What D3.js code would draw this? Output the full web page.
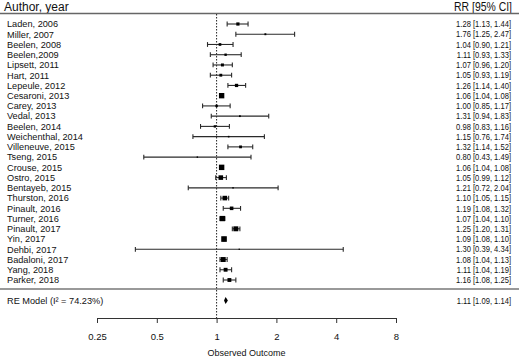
<!DOCTYPE html>
<html>
<head>
<meta charset="utf-8">
<script src="https://cdn.jsdelivr.net/npm/d3@7"></script>
<style>
  html, body { margin: 0; padding: 0; background: #fff; }
  text { font-family: "Liberation Sans", Arial, sans-serif; fill: #111; }
</style>
</head>
<body>
<div id="vis"></div>
<script>
// study labels, top to bottom
const studies = [
  "Laden, 2006", "Miller, 2007", "Beelen, 2008", "Beelen,2009", "Lipsett, 2011",
  "Hart, 2011", "Lepeule, 2012", "Cesaroni, 2013", "Carey, 2013", "Vedal, 2013",
  "Beelen, 2014", "Weichenthal, 2014", "Villeneuve, 2015", "Tseng, 2015",
  "Crouse, 2015", "Ostro, 2015", "Bentayeb, 2015", "Thurston, 2016",
  "Pinault, 2016", "Turner, 2016", "Pinault, 2017", "Yin, 2017", "Dehbi, 2017",
  "Badaloni, 2017", "Yang, 2018", "Parker, 2018"
];
const rr    = [1.28, 1.76, 1.04, 1.11, 1.07, 1.05, 1.26, 1.06, 1.00, 1.31, 0.98, 1.15, 1.32, 0.80, 1.06, 1.05, 1.21, 1.10, 1.19, 1.07, 1.25, 1.09, 1.30, 1.08, 1.11, 1.16];
const lower = [1.13, 1.25, 0.90, 0.93, 0.96, 0.93, 1.14, 1.04, 0.85, 0.94, 0.83, 0.76, 1.14, 0.43, 1.04, 0.99, 0.72, 1.05, 1.08, 1.04, 1.20, 1.08, 0.39, 1.04, 1.04, 1.08];
const upper = [1.44, 2.47, 1.21, 1.33, 1.20, 1.19, 1.40, 1.08, 1.17, 1.83, 1.16, 1.74, 1.52, 1.49, 1.08, 1.12, 2.04, 1.15, 1.32, 1.10, 1.31, 1.10, 4.34, 1.13, 1.19, 1.25];
// approximate study weights (%), read from square sizes
const weights = [3.3, 1.1, 2.4, 1.9, 2.9, 2.7, 3.4, 6.9, 2.0, 0.9, 1.8, 0.6, 2.6, 0.3, 7.0, 5.6, 0.4, 5.6, 3.9, 6.8, 6.2, 7.3, 0.1, 6.2, 4.4, 4.4];

const reModel = { label: "RE Model (I\u00b2 = 74.23%)", est: 1.11, lo: 1.09, hi: 1.14 };
const ticks = [0.25, 0.5, 1, 2, 4, 8];
const tickLabels = ["0.25", "0.5", "1", "2", "4", "8"];

const W = 520, H = 358;
const rowTop = 24, rowStep = 10.24;

const svg = d3.select("#vis").append("svg")
  .attr("width", W).attr("height", H)
  .attr("viewBox", `0 0 ${W} ${H}`);

const x = d3.scaleLog().base(2).domain([0.25, 8]).range([97, 396]);
const y = d3.scaleLinear().domain([0, studies.length - 1])
  .range([rowTop, rowTop + rowStep * (studies.length - 1)]);
const side = d3.scaleLinear().domain([0.1, 7.3]).range([1.3, 5.6]);

const yRE = 300.5, yAxis = 318;
const fmt = (v) => v.toFixed(2);
const ciText = (e, l, u) => `${fmt(e)} [${fmt(l)}, ${fmt(u)}]`;

// header
svg.append("text").attr("x", 4).attr("y", 10.5)
  .attr("font-size", "12px").text("Author, year");
svg.append("g").attr("transform", "translate(512,10.5) scale(0.87,1)")
  .append("text").attr("text-anchor", "end")
  .attr("font-size", "12px").text("RR [95% CI]");

svg.append("line").attr("x1", 0).attr("x2", 519)
  .attr("y1", 13.5).attr("y2", 13.5)
  .attr("stroke", "#666").attr("stroke-width", 1.3);
svg.append("line").attr("x1", 0).attr("x2", 519)
  .attr("y1", 289).attr("y2", 289)
  .attr("stroke", "#777").attr("stroke-width", 1.5);

// reference line at RR = 1
svg.append("line").attr("x1", x(1)).attr("x2", x(1))
  .attr("y1", 14).attr("y2", yAxis)
  .attr("stroke", "#222").attr("stroke-width", 1)
  .attr("stroke-dasharray", "1.5,1.5");

const rows = svg.append("g").selectAll("g.row")
  .data(studies.map((s, i) => ({ s, i, e: rr[i], l: lower[i], u: upper[i], w: weights[i] })))
  .join("g").attr("class", "row");

rows.append("text").attr("x", 7).attr("y", (d) => y(d.i) + 3.3)
  .attr("font-size", "9.2px").text((d) => d.s);

rows.append("line")
  .attr("x1", (d) => x(d.l)).attr("x2", (d) => x(d.u))
  .attr("y1", (d) => y(d.i)).attr("y2", (d) => y(d.i))
  .attr("stroke", "#2a2a2a").attr("stroke-width", 1.1);
["l", "u"].forEach((k) => {
  rows.append("line")
    .attr("x1", (d) => x(d[k])).attr("x2", (d) => x(d[k]))
    .attr("y1", (d) => y(d.i) - 2.4).attr("y2", (d) => y(d.i) + 2.4)
    .attr("stroke", "#2a2a2a").attr("stroke-width", 1.1);
});
rows.append("rect")
  .attr("x", (d) => x(d.e) - side(d.w) / 2)
  .attr("y", (d) => y(d.i) - side(d.w) / 2)
  .attr("width", (d) => side(d.w)).attr("height", (d) => side(d.w))
  .attr("fill", "#000");

rows.append("g")
  .attr("transform", (d) => `translate(511,${y(d.i) + 3.2}) scale(0.8,1)`)
  .append("text").attr("text-anchor", "end").attr("font-size", "9.5px")
  .text((d) => ciText(d.e, d.l, d.u));

// summary
svg.append("text").attr("x", 7).attr("y", yRE + 3.3)
  .attr("font-size", "9.2px").text(reModel.label);
svg.append("path")
  .attr("d", `M${x(reModel.lo)},${yRE} L${x(reModel.est)},${yRE - 3.6} L${x(reModel.hi)},${yRE} L${x(reModel.est)},${yRE + 3.6}Z`)
  .attr("fill", "#000");
svg.append("g").attr("transform", `translate(511,${yRE + 3.2}) scale(0.8,1)`)
  .append("text").attr("text-anchor", "end").attr("font-size", "9.5px")
  .text(ciText(reModel.est, reModel.lo, reModel.hi));

// x axis
const axis = svg.append("g").attr("transform", `translate(0,${yAxis})`)
  .call(d3.axisBottom(x).tickValues(ticks).tickSizeOuter(0).tickSize(5)
    .tickFormat((d, i) => tickLabels[i]));
axis.select(".domain").attr("stroke", "#333");
axis.selectAll(".tick line").attr("stroke", "#333");
axis.selectAll(".tick text").attr("font-size", "9.5px")
  .attr("font-family", "Liberation Sans, Arial, sans-serif")
  .attr("fill", "#111").attr("dy", "0").attr("y", 22);

svg.append("text").attr("x", (x(0.25) + x(8)) / 2).attr("y", 356)
  .attr("text-anchor", "middle").attr("font-size", "9px")
  .text("Observed Outcome");
</script>
</body>
</html>
